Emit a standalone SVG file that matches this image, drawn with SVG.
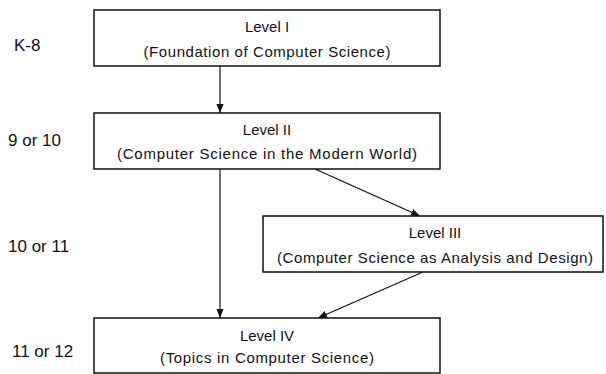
<svg xmlns="http://www.w3.org/2000/svg" width="606" height="374" viewBox="0 0 606 374">
<defs>
<style>
.box{fill:#fff;stroke:#111;stroke-width:1.5}
.t{font-family:"Liberation Sans",Arial,sans-serif;font-size:15px;fill:#111;text-anchor:middle}
.lbl{font-family:"Liberation Sans",Arial,sans-serif;font-size:17px;fill:#111}
.c{stroke:#111;stroke-width:1.2;fill:none;marker-end:url(#ah)}
</style>
<marker id="ah" viewBox="0 0 10 10" refX="10" refY="5" markerWidth="9" markerHeight="9" markerUnits="userSpaceOnUse" orient="auto">
<path d="M0,1 L10,5 L0,9 z" fill="#111"/>
</marker>
</defs>
<rect width="606" height="374" fill="#fff"/>
<g id="grades">
<text class="lbl" x="14" y="51">K-8</text>
<text class="lbl" x="8" y="146">9 or 10</text>
<text class="lbl" x="8" y="252">10 or 11</text>
<text class="lbl" x="12" y="357">11 or 12</text>
</g>
<g id="connectors">
<line class="c" x1="220" y1="66" x2="220" y2="113"/>
<line class="c" x1="315" y1="169" x2="420" y2="216"/>
<line class="c" x1="220" y1="169" x2="220" y2="318"/>
<line class="c" x1="423" y1="272" x2="318" y2="318"/>
</g>
<g id="level1">
<rect class="box" x="94" y="10" width="346" height="56"/>
<text class="t" x="267" y="32">Level I</text>
<text class="t" x="267" y="57" textLength="247" lengthAdjust="spacing">(Foundation of Computer Science)</text>
</g>
<g id="level2">
<rect class="box" x="94" y="113" width="346" height="56"/>
<text class="t" x="267" y="135">Level II</text>
<text class="t" x="267" y="159" textLength="300" lengthAdjust="spacing">(Computer Science in the Modern World)</text>
</g>
<g id="level3">
<rect class="box" x="263" y="216" width="340" height="56"/>
<text class="t" x="435" y="238">Level III</text>
<text class="t" x="435" y="263" textLength="316" lengthAdjust="spacing">(Computer Science as Analysis and Design)</text>
</g>
<g id="level4">
<rect class="box" x="94" y="318" width="346" height="55"/>
<text class="t" x="267" y="341">Level IV</text>
<text class="t" x="267" y="363" textLength="214" lengthAdjust="spacing">(Topics in Computer Science)</text>
</g>
</svg>
